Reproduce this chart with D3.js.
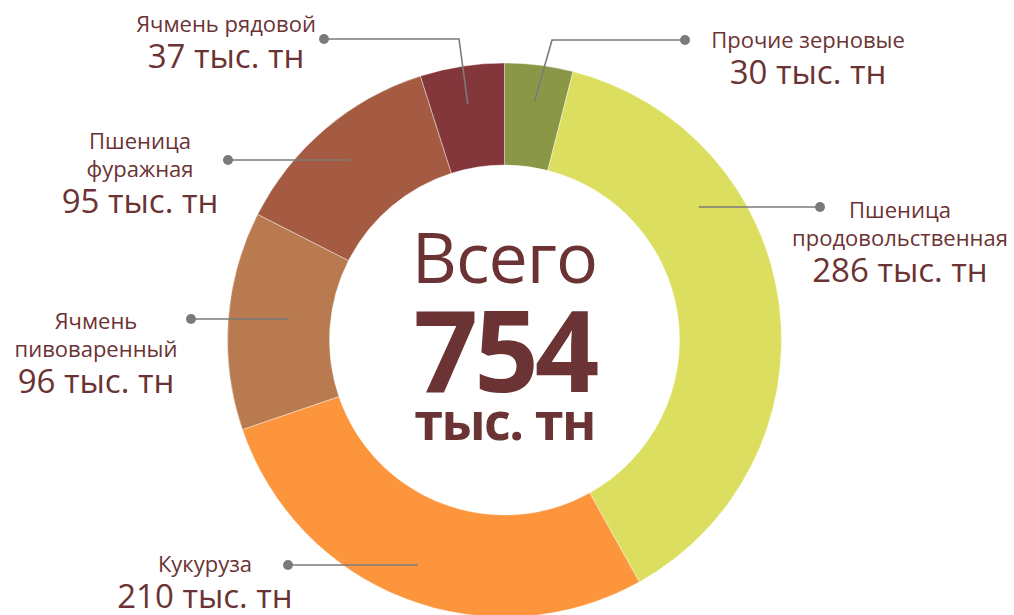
<!DOCTYPE html>
<html>
<head>
<meta charset="utf-8">
<script src="https://cdn.jsdelivr.net/npm/d3@7"></script>
<style>
  html, body { margin: 0; padding: 0; background: #fff; }
  #chart { width: 1014px; height: 615px; }
  text { font-family: "Open Sans", "Noto Sans", sans-serif; fill: #6b3333; }
</style>
</head>
<body>
<div id="chart"></div>
<script>
// Data (clockwise from 12 o'clock)
const categories = ['Прочие зерновые', 'Пшеница продовольственная', 'Кукуруза',
  'Ячмень пивоваренный', 'Пшеница фуражная', 'Ячмень рядовой'];
const values = [30, 286, 210, 96, 95, 37];
const labelLines = [['Прочие зерновые'], ['Пшеница', 'продовольственная'], ['Кукуруза'],
  ['Ячмень', 'пивоваренный'], ['Пшеница', 'фуражная'], ['Ячмень рядовой']];
const unit = 'тыс. тн';
const totalTitle = 'Всего';

const colors = ['#8a9747', '#dbde5f', '#fd953c', '#b87a4e', '#a55b42', '#84373a'];

// Label layout: dot position, text centre, first baseline, optional elbow and angle override
const layout = [
  { dot: [685, 40], elbow: [552, 40], tx: 808, ty: 48, r: 240 },
  { dot: [820, 207], tx: 900, ty: 218, angle: 55.4, r: 236 },
  { dot: [288, 565], tx: 205, ty: 572, r: 242 },
  { dot: [191, 319], tx: 96, ty: 329, r: 216 },
  { dot: [228, 160], tx: 140, ty: 149, r: 239 },
  { dot: [324, 39], elbow: [459, 39], tx: 226, ty: 32, r: 239 }
];

const width = 1014, height = 615;
const cx = 504.5, cy = 340;
const outerR = 277, innerR = 175;

const svg = d3.select('#chart').append('svg')
  .attr('width', width)
  .attr('height', height);

const pie = d3.pie().sort(null).value(d => d);
const arcs = pie(values);
const arc = d3.arc().innerRadius(innerR).outerRadius(outerR);

const g = svg.append('g').attr('transform', `translate(${cx},${cy})`);

g.selectAll('path.slice')
  .data(arcs)
  .join('path')
  .attr('class', 'slice')
  .attr('d', arc)
  .attr('fill', (d, i) => colors[i])
  .attr('stroke', '#fff')
  .attr('stroke-width', 0.4);

// Leader lines
const leaders = svg.append('g');
arcs.forEach((a, i) => {
  const L = layout[i];
  const ang = L.angle != null ? L.angle * Math.PI / 180 : (a.startAngle + a.endAngle) / 2;
  const p = [cx + L.r * Math.sin(ang), cy - L.r * Math.cos(ang)];
  const pts = [L.dot];
  if (L.elbow) pts.push(L.elbow);
  pts.push(L.elbow ? p : [p[0], L.dot[1]]);
  leaders.append('path')
    .attr('d', d3.line()(pts))
    .attr('fill', 'none')
    .attr('stroke', '#7a7a7a')
    .attr('stroke-width', 1.6);
  leaders.append('circle')
    .attr('cx', L.dot[0])
    .attr('cy', L.dot[1])
    .attr('r', 5)
    .attr('fill', '#7a7a7a');
});

// Labels
const labels = svg.append('g');
categories.forEach((c, i) => {
  const L = layout[i];
  const lines = labelLines[i];
  const t = labels.append('text')
    .attr('text-anchor', 'middle')
    .attr('x', L.tx)
    .attr('y', L.ty);
  lines.forEach((ln, j) => {
    t.append('tspan')
      .attr('x', L.tx)
      .attr('dy', j === 0 ? 0 : 28)
      .style('font-size', '22px')
      .text(ln);
  });
  const vy = L.ty + (lines.length - 1) * 28 + 36;
  labels.append('text')
    .attr('text-anchor', 'middle')
    .attr('x', L.tx)
    .attr('y', vy)
    .style('font-size', '33px')
    .text(`${values[i]} ${unit}`);
});

// Centre text
const total = d3.sum(values);
const center = svg.append('g').attr('text-anchor', 'middle');
center.append('text')
  .attr('x', cx)
  .attr('y', 283)
  .style('font-size', '70px')
  .style('letter-spacing', '-1px')
  .text(totalTitle);
center.append('text')
  .attr('x', cx)
  .attr('y', 392)
  .style('font-size', '113px')
  .style('font-weight', 'bold')
  .style('letter-spacing', '-4px')
  .text(total);
center.append('text')
  .attr('x', cx)
  .attr('y', 440)
  .style('font-size', '52px')
  .style('font-weight', 'bold')
  .style('letter-spacing', '-1.5px')
  .text(unit);
</script>
</body>
</html>
